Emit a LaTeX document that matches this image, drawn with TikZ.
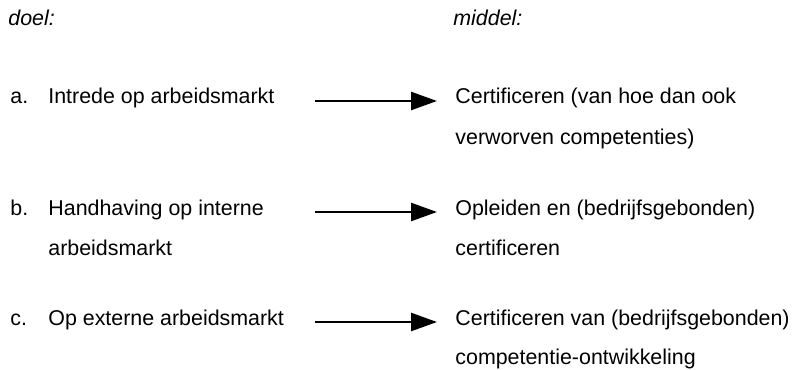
\documentclass[tikz,border=0pt]{standalone}
\usepackage{fontspec}
\setmainfont{Liberation Sans}
\usetikzlibrary{arrows.meta}
\begin{document}
\begin{tikzpicture}[x=0.5pt,y=-0.5pt,
  txt/.style={anchor=base west,inner sep=0pt,font=\fontsize{10.7pt}{20pt}\selectfont},
  head/.style={txt,font=\fontsize{10.7pt}{20pt}\selectfont\itshape},
  link/.style={line width=1.3pt,-{Triangle[length=13pt,width=9pt]}}]
  \useasboundingbox[fill=white] (0,0) rectangle (795,369);
  % column headings
  \node[head] (hdoel) at (8,26) {doel:};
  \node[head] (hmid) at (453,26) {middel:};
  % goals
  \node[txt] (la) at (10,104) {a.};
  \node[txt] (ga) at (48,104) {Intrede op arbeidsmarkt};
  \node[txt] (lb) at (10,215) {b.};
  \node[txt] (gb1) at (48,215) {Handhaving op interne};
  \node[txt] (gb2) at (48,255) {arbeidsmarkt};
  \node[txt] (lc) at (10,325) {c.};
  \node[txt] (gc) at (48,325) {Op externe arbeidsmarkt};
  % means
  \node[txt] (ma1) at (455,104) {Certificeren (van hoe dan ook};
  \node[txt] (ma2) at (455,144) {verworven competenties)};
  \node[txt] (mb1) at (455,215) {Opleiden en (bedrijfsgebonden)};
  \node[txt] (mb2) at (455,255) {certificeren};
  \node[txt] (mc1) at (455,325) {Certificeren van (bedrijfsgebonden)};
  \node[txt] (mc2) at (455,364) {competentie-ontwikkeling};
  % arrow end points
  \coordinate (sa) at (315,101);
  \coordinate (ea) at (437,101);
  \coordinate (sb) at (315,212);
  \coordinate (eb) at (437,212);
  \coordinate (sc) at (315,322);
  \coordinate (ec) at (437,322);
  \draw[link] (sa) -- (ea);
  \draw[link] (sb) -- (eb);
  \draw[link] (sc) -- (ec);
\end{tikzpicture}
\end{document}
